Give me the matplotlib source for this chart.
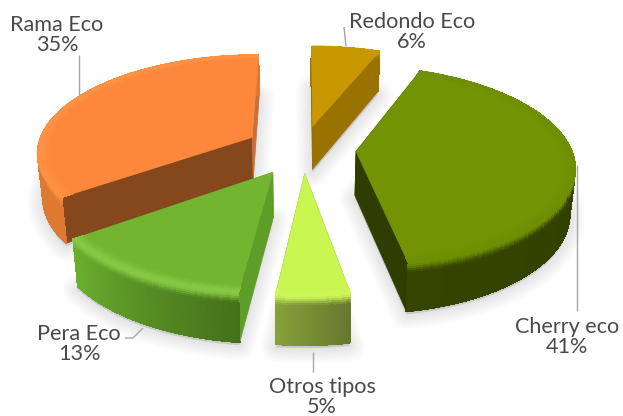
import numpy as np
import matplotlib
matplotlib.use('Agg')
import matplotlib.pyplot as plt
from matplotlib.patches import Polygon
from matplotlib.collections import PolyCollection, LineCollection
from matplotlib.colors import to_rgb

# clockwise from 12 o'clock, shares estimated from the angles, labels show them rounded
names = ['Redondo Eco', 'Cherry eco', 'Otros tipos', 'Pera Eco', 'Rama Eco']
shares = [6.0, 41.2, 4.6, 13.2, 35.0]

# look of each slice
top_col = ['#C89800', '#729303', '#C8F550', '#72B531', '#FD873A']
rim_col = ['#C89800', '#6E8E04', '#CCF658', '#86C844', '#FF9144']
cut_start = ['#8A6600', '#2F3D00', '#7F9A38', '#5E9E28', '#85481C']   # cut face at first edge
cut_end = ['#9A7200', '#2F3D00', '#7F9A38', '#5E9E28', '#C8703A']     # cut face at last edge
wall_a = ['#9A7200', '#2C3A00', '#66782C', '#44701A', '#DD7930']      # outer wall, first edge
wall_b = ['#9A7200', '#354500', '#86A03C', '#6BAF2E', '#DD7930']      # outer wall, last edge
draw_order = [0, 4, 1, 3, 2]
explode = [0.247, 0.247, 0.247, 0.27, 0.27]

label_xy = [(412, 32), (567, 337), (322, 397), (79, 344), (57, 35)]
leaders = [[(344, 27), (346, 46)],
           [(577, 165), (577, 311)],
           [(313, 352), (313, 372)],
           [(125, 338), (133, 338), (143, 328)],
           [(79, 55), (79, 97)]]

# projection of the tilted pie
cx, cy = 303, 149
scale_x, scale_y = 215, 97
persp = 0.141
depth = 44
bottom_x = 0.98


def project(u, v, z=0.0):
    w = 1 / (1 + persp * v)
    x = cx + scale_x * u * w
    y = cy - scale_y * v * w
    x = cx + (x - cx) * (1 - (1 - bottom_x) * z)
    y = y + depth * z * w ** 0.6
    return x, y


def point(a, mid, e, r=1.0):
    return (e * np.sin(mid) + r * np.sin(a),
            e * np.cos(mid) + r * np.cos(a))


def mix(c1, c2, t):
    c1, c2 = np.array(to_rgb(c1)), np.array(to_rgb(c2))
    return tuple(c1 + (c2 - c1) * t)


def face(pts):
    return [project(*p) for p in pts]


fig = plt.figure(figsize=(6.23, 4.16), dpi=100)
ax = fig.add_axes([0, 0, 1, 1])
ax.set_xlim(0, 623)
ax.set_ylim(416, 0)
ax.axis('off')

edges = np.radians(np.cumsum([0] + shares) * 3.6)
slices = []
for i in range(len(shares)):
    a0, a1 = edges[i], edges[i + 1]
    slices.append((a0, a1, (a0 + a1) / 2, np.linspace(a0, a1, 90)))

# soft shadow under everything
for i in range(len(shares)):
    a0, a1, mid, arc = slices[i]
    apex = point(0, mid, explode[i], 0)
    rim = [point(a, mid, explode[i]) for a in arc]
    low = [project(p[0], p[1], 1.0) for p in [apex] + rim]
    low = [(x, y + 3) for x, y in low]
    for lw in np.arange(22, 1, -2.5):
        ax.add_patch(Polygon(low, closed=True, fc='black', ec='black', lw=lw,
                             alpha=0.012, joinstyle='round', zorder=1))

z = 2
for i in draw_order:
    a0, a1, mid, arc = slices[i]
    e = explode[i]
    apex = point(0, mid, e, 0)
    rim = [point(a, mid, e) for a in arc]

    # cut faces
    for p, col in ((rim[0], cut_start[i]), (rim[-1], cut_end[i])):
        pts = face([(apex[0], apex[1], 0), (p[0], p[1], 0), (p[0], p[1], 1), (apex[0], apex[1], 1)])
        ax.add_patch(Polygon(pts, closed=True, fc=col, ec=col, lw=0.5, zorder=z))
    z += 1

    # outer wall, gradient along the arc and blur under the top edge
    quads, cols = [], []
    segs, seg_cols = [], []
    rows = np.linspace(0, 1, 25)
    for j in range(len(arc) - 1):
        p, q = rim[j], rim[j + 1]
        base = mix(wall_a[i], wall_b[i], j / (len(arc) - 2))
        for r0, r1 in zip(rows[:-1], rows[1:]):
            quads.append(face([(p[0], p[1], r0), (q[0], q[1], r0), (q[0], q[1], r1), (p[0], p[1], r1)]))
            t = min(1, r0 / 0.22)
            cols.append(mix(rim_col[i], base, t * t * (3 - 2 * t)))
        segs.append(face([(p[0], p[1], 1), (q[0], q[1], 1)]))
        seg_cols.append(base)
    ax.add_collection(PolyCollection(quads, facecolors=cols, edgecolors=cols, linewidths=0.6,
                                     antialiased=False, zorder=z))
    # smooth lower edge, the grid itself is not antialiased
    ax.add_collection(LineCollection(segs, colors=seg_cols, linewidths=1.0, zorder=z))
    z += 1

    # top face and its lighter rim
    pts = face([(apex[0], apex[1], 0)] + [(p[0], p[1], 0) for p in rim])
    ax.add_patch(Polygon(pts, closed=True, fc=top_col[i], ec=top_col[i], lw=0.5, zorder=z))
    z += 1
    quads, cols = [], []
    rr = np.linspace(0.95, 0.995, 7)
    for j in range(len(arc) - 1):
        for r0, r1 in zip(rr[:-1], rr[1:]):
            p0, q0 = point(arc[j], mid, e, r0), point(arc[j + 1], mid, e, r0)
            p1, q1 = point(arc[j], mid, e, r1), point(arc[j + 1], mid, e, r1)
            quads.append(face([p0, q0, q1, p1]))
            cols.append(mix(top_col[i], rim_col[i], (r1 - 0.95) / 0.045))
    ax.add_collection(PolyCollection(quads, facecolors=cols, edgecolors=cols, linewidths=0.5,
                                     antialiased=False, zorder=z))
    # same for the outer edge of the top
    ax.plot(*zip(*face([(p[0], p[1], 0) for p in rim])), color=rim_col[i], lw=1.3, zorder=z,
            solid_capstyle='butt')
    z += 1

# labels and leader lines
for i in range(len(shares)):
    lx = [p[0] for p in leaders[i]]
    ly = [p[1] for p in leaders[i]]
    ax.plot(lx, ly, color='#A6A6A6', lw=1, zorder=z, solid_capstyle='butt')
    ax.text(label_xy[i][0], label_xy[i][1], names[i] + '\n' + str(round(shares[i])) + '%',
            ha='center', va='center', ma='center', fontsize=15.6, family='Lato',
            color='#4A4A4A', linespacing=0.95, zorder=z + 1)

fig.savefig('out.png', dpi=100)
